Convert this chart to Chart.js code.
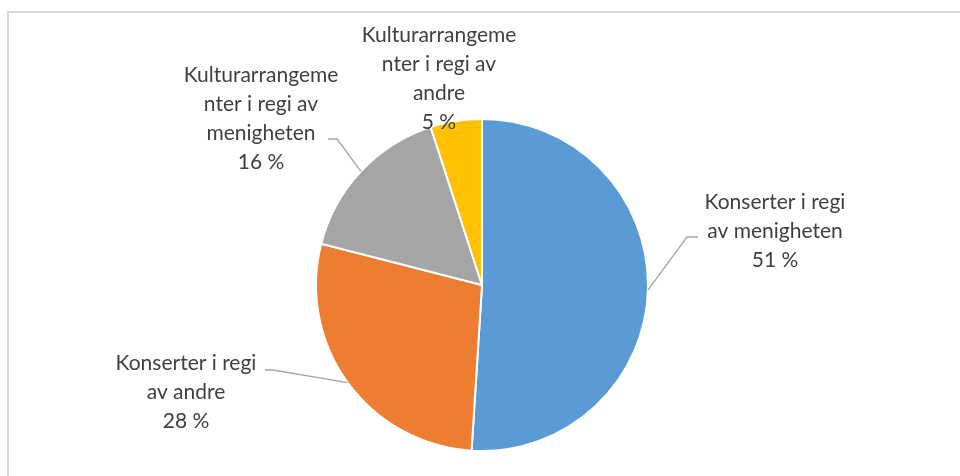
<!DOCTYPE html>
<html>
<head>
<meta charset="utf-8">
<script src="https://cdn.jsdelivr.net/npm/chart.js@4.4.0/dist/chart.umd.min.js"></script>
<style>
  html, body { margin: 0; padding: 0; background: #fff; }
  #wrap { position: relative; width: 960px; height: 476px; }
</style>
</head>
<body>
<div id="wrap"><canvas id="pie" width="960" height="476"></canvas></div>
<script>
// data
const categories = [
  "Konserter i regi av menigheten",
  "Konserter i regi av andre",
  "Kulturarrangementer i regi av menigheten",
  "Kulturarrangementer i regi av andre"
];
const shares = [51, 28, 16, 5];
// how the category names wrap in the labels
const labelLines = [
  ["Konserter i regi", "av menigheten"],
  ["Konserter i regi", "av andre"],
  ["Kulturarrangeme", "nter i regi av", "menigheten"],
  ["Kulturarrangeme", "nter i regi av", "andre"]
];
const colors = ["#5B9BD5", "#ED7D31", "#A5A5A5", "#FFC000"];

// label layout: center x, first line y
const labelCenters = [[775, 202], [186, 363], [261, 75], [439, 35]];
// leader line elbow x, y and end x (null = no leader)
const leaderElbows = [[687, 237, 698], [273, 370, 265], [337, 139, 328], null];
const lineHeight = 29;
const labelFont = "21px Lato";

const labelPlugin = {
  id: "pieLabels",
  beforeDraw(chart) {
    const ctx = chart.ctx;
    ctx.save();
    ctx.strokeStyle = "#D9D9D9";
    ctx.lineWidth = 2;
    ctx.strokeRect(8, 12, 1000, 1000);
    ctx.restore();
  },
  afterDatasetsDraw(chart) {
    const ctx = chart.ctx;
    const arcs = chart.getDatasetMeta(0).data;
    ctx.save();
    arcs.forEach((arc, i) => {
      const p = arc.getProps(["x", "y", "startAngle", "endAngle", "outerRadius"], true);
      const mid = (p.startAngle + p.endAngle) / 2;
      const ex = p.x + Math.cos(mid) * p.outerRadius;
      const ey = p.y + Math.sin(mid) * p.outerRadius;
      const el = leaderElbows[i];
      if (el) {
        ctx.strokeStyle = "#A6A6A6";
        ctx.lineWidth = 1.3;
        ctx.beginPath();
        ctx.moveTo(ex, ey);
        ctx.lineTo(el[0], el[1]);
        ctx.lineTo(el[2], el[1]);
        ctx.stroke();
      }
      const lines = labelLines[i].concat([shares[i] + " %"]);
      ctx.fillStyle = "#404040";
      ctx.font = labelFont;
      ctx.textAlign = "center";
      ctx.textBaseline = "middle";
      lines.forEach((t, k) => {
        ctx.fillText(t, labelCenters[i][0], labelCenters[i][1] + k * lineHeight);
      });
    });
    ctx.restore();
  }
};

new Chart(document.getElementById("pie"), {
  type: "pie",
  data: {
    labels: categories,
    datasets: [{
      data: shares,
      backgroundColor: colors,
      borderColor: "#FFFFFF",
      borderWidth: 2
    }]
  },
  options: {
    responsive: false,
    animation: false,
    layout: { padding: { left: 315, right: 311, top: 118, bottom: 24 } },
    plugins: {
      legend: { display: false },
      tooltip: { enabled: false }
    }
  },
  plugins: [labelPlugin]
});
</script>
</body>
</html>
